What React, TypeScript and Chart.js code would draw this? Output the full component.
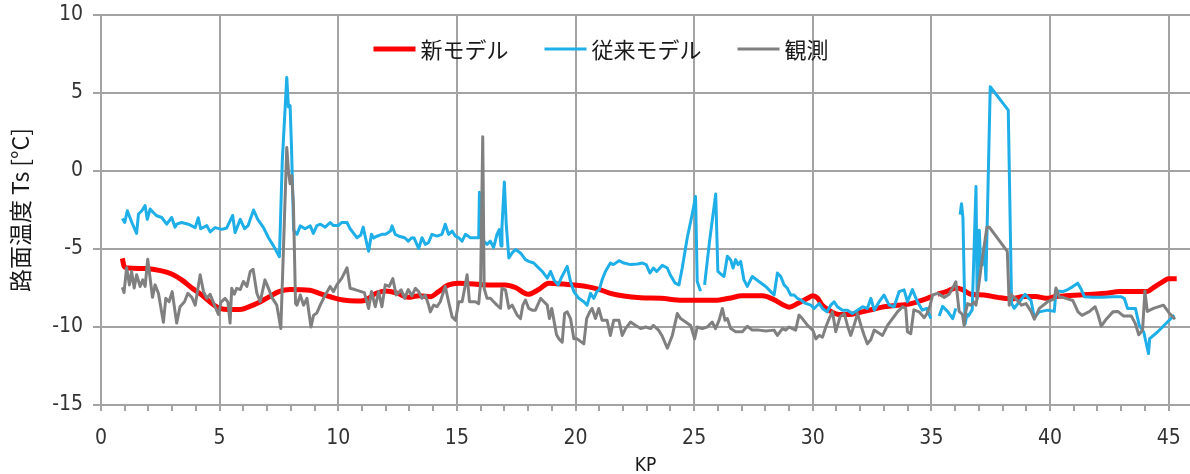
import { useEffect, useRef } from 'react';
import { Chart, registerables } from 'chart.js';

Chart.register(...registerables);

type Pt = [number, number | null];

// Series labels (legend order)
const seriesLabels = ['新モデル', '従来モデル', '観測'];

// Axis settings
const kpMin = 0;
const kpMax = 45.9;
const kpMajor = 5;
const tsMin = -15;
const tsMax = 10;
const tsStep = 5;
const xTitle = 'KP';
const yTitle = '路面温度 Ts [°C]';

// 新モデル: [KP, Ts]
const newModel: Pt[] = [
  [0.9, -5.6], [0.97, -6.1], [1.05, -6.2], [1.86, -6.25], [2.56, -6.4], [2.98, -6.6],
  [3.4, -6.98], [3.83, -7.5], [4.25, -7.95], [4.67, -8.49], [5.02, -8.81], [5.37, -8.88],
  [5.94, -8.86], [6.2, -8.73], [6.7, -8.4], [7.1, -8.05], [7.5, -7.73], [7.97, -7.6],
  [8.8, -7.65], [9.2, -7.84], [9.66, -8.06], [10.2, -8.27], [10.79, -8.34], [11.1, -8.3],
  [11.6, -7.84], [12.0, -7.69], [12.5, -7.84], [12.95, -8.1], [13.4, -8.0], [13.88, -8.06],
  [14.23, -7.73], [14.65, -7.3], [15.08, -7.19], [16.34, -7.3], [17.05, -7.3], [17.47, -7.47],
  [18.0, -7.9], [18.45, -7.6], [18.87, -7.19], [19.5, -7.25], [20.49, -7.41], [21.05, -7.62],
  [21.47, -7.84], [22.04, -8.01], [22.75, -8.12], [23.6, -8.16], [24.5, -8.29], [25.9, -8.29],
  [26.47, -8.16], [27.03, -8.0], [27.88, -8.0], [28.3, -8.2], [28.72, -8.55], [29.0, -8.73],
  [29.36, -8.5], [29.78, -8.16], [30.0, -8.0], [30.2, -8.15], [30.4, -8.6], [30.8, -9.03],
  [31.1, -9.2], [31.53, -9.2], [31.96, -9.07], [32.55, -8.86], [33.0, -8.7], [33.57, -8.6],
  [33.99, -8.55], [34.41, -8.38], [34.83, -8.16], [35.0, -8.05], [35.1, null], [35.26, -7.9],
  [35.68, -7.7], [36.03, -7.5], [36.31, -7.6], [36.66, -7.9], [37.22, -7.95], [37.79, -8.1],
  [38.35, -8.2], [38.9, -8.05], [39.4, -8.05], [39.83, -8.16], [40.25, -8.05], [40.67, -8.0],
  [41.24, -7.95], [41.8, -7.9], [42.37, -7.84], [42.93, -7.73], [44.1, -7.73], [44.36, -7.47],
  [44.78, -7.08], [44.99, -6.9], [45.34, -6.9],
];

// 従来モデル: [KP, Ts]
const oldModel: Pt[] = [
  [0.9, -3.05], [1.0, -3.3], [1.11, -2.55], [1.2, -2.9], [1.3, -3.3], [1.5, -4.0],
  [1.58, -2.76], [1.72, -2.55], [1.86, -2.22], [1.95, -3.1], [2.07, -2.44], [2.2, -2.66],
  [2.35, -2.87], [2.56, -2.98], [2.77, -3.41], [2.98, -2.98], [3.12, -3.6], [3.19, -3.41],
  [3.4, -3.3], [3.68, -3.41], [3.97, -3.63], [4.1, -3.0], [4.2, -3.7], [4.46, -3.5],
  [4.6, -3.9], [4.81, -3.63], [5.09, -3.74], [5.3, -3.65], [5.55, -2.85], [5.65, -3.95],
  [5.87, -3.1], [6.05, -3.7], [6.2, -3.5], [6.43, -2.5], [6.6, -3.09], [6.85, -3.63],
  [7.06, -4.28], [7.27, -4.8], [7.52, -5.5], [7.64, 0.6], [7.83, 6.0], [7.9, 4.1],
  [7.97, 4.2], [8.03, 1.5], [8.12, -3.8], [8.26, -4.06], [8.4, -3.52], [8.6, -3.7],
  [8.82, -3.52], [8.95, -4.0], [9.1, -3.5], [9.25, -3.41], [9.45, -3.6], [9.66, -3.3],
  [9.8, -3.5], [10.0, -3.5], [10.15, -3.3], [10.37, -3.3], [10.5, -3.7], [10.65, -4.0],
  [10.79, -4.28], [10.95, -4.1], [11.05, -3.6], [11.21, -4.7], [11.28, -5.14], [11.4, -4.06],
  [11.5, -4.3], [11.6, -4.2], [11.84, -4.06], [12.0, -4.05], [12.2, -3.85], [12.27, -3.52],
  [12.4, -4.06], [12.6, -4.2], [12.8, -4.28], [12.95, -4.5], [13.1, -4.28], [13.2, -4.3],
  [13.39, -4.97], [13.53, -4.28], [13.67, -4.7], [13.8, -4.6], [13.95, -4.06], [14.16, -4.17],
  [14.37, -4.06], [14.51, -3.41], [14.65, -4.06], [14.8, -3.85], [14.94, -4.17], [15.08, -4.28],
  [15.22, -4.5], [15.36, -4.06], [15.57, -4.28], [15.78, -4.28], [15.92, -4.28], [15.95, -1.36],
  [16.0, -4.28], [16.13, -4.5], [16.27, -4.7], [16.41, -4.5], [16.55, -4.9], [16.69, -4.06],
  [16.79, -3.75], [16.86, -4.8], [16.9, -3.6], [17.0, -0.71], [17.08, -3.4], [17.19, -5.57],
  [17.33, -5.25], [17.47, -5.03], [17.68, -5.25], [17.89, -5.68], [18.03, -5.79], [18.24, -5.9],
  [18.38, -6.11], [18.6, -6.44], [18.81, -6.87], [18.95, -6.44], [19.1, -7.0], [19.27, -7.3],
  [19.43, -6.76], [19.65, -6.11], [19.79, -7.08], [19.93, -7.73], [20.14, -8.16], [20.35, -8.38],
  [20.49, -8.6], [20.63, -7.84], [20.77, -8.16], [20.9, -7.73], [21.0, -7.62], [21.12, -6.98],
  [21.26, -6.44], [21.47, -5.9], [21.6, -6.0], [21.83, -5.75], [22.04, -5.9], [22.32, -6.0],
  [22.61, -5.96], [22.82, -5.9], [22.98, -6.0], [23.14, -6.54], [23.28, -6.22], [23.42, -6.44],
  [23.66, -6.05], [23.87, -6.22], [23.99, -6.65], [24.2, -7.19], [24.36, -7.3], [24.5, -6.2],
  [24.71, -4.28], [24.92, -2.76], [25.06, -1.64], [25.13, -7.08], [25.27, -7.7], [25.35, null],
  [25.44, -7.3], [25.65, -4.5], [25.91, -1.47], [26.0, -6.44], [26.12, -6.6], [26.26, -6.76],
  [26.4, -5.46], [26.54, -5.7], [26.64, -6.22], [26.75, -5.68], [26.85, -6.0], [26.96, -5.79],
  [27.1, -6.98], [27.24, -7.4], [27.45, -6.76], [27.73, -7.08], [28.02, -7.4], [28.23, -7.73],
  [28.37, -7.95], [28.51, -6.54], [28.65, -6.76], [28.79, -7.3], [28.93, -7.52], [29.07, -7.95],
  [29.21, -7.95], [29.35, -8.16], [29.5, -8.27], [29.7, -8.49], [29.92, -8.6], [30.06, -8.81],
  [30.27, -8.49], [30.41, -8.81], [30.6, -9.03], [30.76, -8.6], [30.9, -8.38], [31.04, -8.7],
  [31.25, -8.92], [31.46, -8.92], [31.67, -9.14], [31.89, -8.92], [32.1, -8.7], [32.3, -8.81],
  [32.45, -8.16], [32.59, -8.92], [32.8, -8.38], [33.0, -7.95], [33.22, -8.6], [33.43, -8.7],
  [33.64, -7.73], [33.85, -7.62], [33.99, -8.38], [34.2, -7.6], [34.41, -8.38], [34.62, -8.92],
  [34.8, -8.81], [34.98, -9.46], [35.15, null], [35.33, -9.3], [35.47, -8.68], [35.68, -9.0],
  [35.9, -9.46], [36.03, -8.81], [36.12, null], [36.21, -2.8], [36.27, -2.1], [36.33, -3.0],
  [36.42, -9.8], [36.5, -9.2], [36.55, -9.3], [36.72, -8.9], [36.88, -1.0], [36.93, -8.2],
  [37.02, -3.8], [37.08, -6.1], [37.15, -6.0], [37.23, -4.85], [37.3, -7.0], [37.48, 5.4],
  [38.24, 3.9], [38.38, -8.5], [38.49, -8.8], [38.7, -8.4], [38.95, -7.9], [39.1, -8.16],
  [39.2, -8.3], [39.34, -9.4], [39.55, -9.03], [39.9, -8.92], [40.18, -9.0], [40.25, -7.7],
  [40.54, -7.73], [40.75, -7.6], [40.96, -7.41], [41.17, -7.19], [41.32, -7.6], [41.45, -8.06],
  [41.8, -8.1], [42.23, -8.1], [42.65, -8.06], [43.0, -8.06], [43.13, -8.16], [43.27, -8.81],
  [43.6, -8.81], [43.76, -9.9], [43.95, -10.32], [44.15, -11.7], [44.2, -10.75], [44.53, -10.32],
  [44.95, -9.68], [45.24, -9.24],
];

// 観測: [KP, Ts]
const observed: Pt[] = [
  [0.9, -7.45], [0.97, -7.8], [1.08, -6.2], [1.2, -7.3], [1.29, -6.44], [1.4, -7.5],
  [1.5, -6.65], [1.65, -7.4], [1.76, -6.98], [1.86, -7.4], [1.97, -5.65], [2.07, -6.87],
  [2.17, -8.1], [2.28, -7.3], [2.42, -7.84], [2.63, -9.7], [2.73, -8.16], [2.87, -8.38],
  [3.0, -7.73], [3.19, -9.75], [3.33, -8.7], [3.52, -8.38], [3.66, -7.84], [3.83, -8.1],
  [3.97, -8.6], [4.18, -6.65], [4.32, -7.73], [4.46, -8.16], [4.6, -7.9], [4.81, -8.7],
  [4.95, -9.2], [5.06, -8.4], [5.23, -8.16], [5.35, -8.4], [5.44, -9.75], [5.51, -7.52],
  [5.62, -7.9], [5.72, -7.52], [5.87, -7.6], [6.0, -7.08], [6.15, -7.4], [6.29, -6.44],
  [6.41, -6.3], [6.57, -7.84], [6.71, -8.38], [6.91, -6.98], [7.06, -7.52], [7.2, -8.1],
  [7.41, -8.6], [7.58, -10.1], [7.83, 1.5], [7.9, 0.04], [7.97, -0.82], [8.04, -0.3],
  [8.11, -2.12], [8.2, -8.5], [8.26, -8.6], [8.4, -7.95], [8.54, -8.6], [8.68, -8.16],
  [8.85, -10.0], [8.96, -9.24], [9.1, -9.1], [9.24, -8.6], [9.45, -7.95], [9.66, -7.4],
  [9.8, -7.73], [9.94, -7.3], [10.15, -6.87], [10.37, -6.2], [10.5, -7.52], [10.7, -7.6],
  [10.9, -7.7], [11.1, -7.8], [11.28, -8.81], [11.4, -7.73], [11.56, -8.7], [11.7, -7.73],
  [11.84, -8.7], [11.98, -7.3], [12.15, -7.4], [12.3, -6.9], [12.44, -7.95], [12.65, -7.62],
  [12.8, -8.16], [12.95, -7.6], [13.1, -8.0], [13.25, -7.52], [13.39, -7.73], [13.53, -8.16],
  [13.67, -7.95], [13.81, -8.6], [13.88, -9.03], [14.02, -8.6], [14.16, -8.7], [14.3, -8.38],
  [14.44, -7.73], [14.51, -7.4], [14.65, -8.38], [14.8, -9.35], [14.94, -9.57], [15.08, -8.38],
  [15.22, -8.38], [15.33, -7.52], [15.43, -6.65], [15.53, -8.38], [15.78, -8.38], [15.92, -8.5],
  [16.0, -7.2], [16.09, 2.2], [16.15, -7.52], [16.27, -8.16], [16.41, -8.16], [16.55, -8.38],
  [16.69, -8.6], [16.84, -8.8], [16.9, -7.52], [17.05, -7.62], [17.19, -8.8], [17.33, -8.6],
  [17.54, -9.24], [17.68, -9.46], [17.78, -8.6], [17.89, -8.27], [18.03, -8.81], [18.17, -8.92],
  [18.31, -8.92], [18.53, -8.16], [18.67, -8.38], [18.81, -8.6], [18.9, -9.46], [19.0, -8.81],
  [19.2, -10.5], [19.3, -10.76], [19.44, -10.97], [19.54, -9.14], [19.65, -9.03], [19.79, -9.46],
  [19.93, -10.76], [20.07, -10.76], [20.35, -11.08], [20.47, -9.46], [20.6, -9.03], [20.7, -8.81],
  [20.84, -9.46], [20.98, -8.81], [21.12, -9.57], [21.33, -9.57], [21.47, -10.54], [21.61, -9.57],
  [21.83, -9.57], [21.97, -10.54], [22.11, -10.1], [22.32, -9.68], [22.54, -9.9], [22.75, -10.1],
  [22.96, -10.0], [23.17, -10.1], [23.28, -9.9], [23.5, -10.2], [23.64, -10.54], [23.87, -11.36],
  [24.08, -10.54], [24.29, -9.14], [24.43, -9.46], [24.64, -9.68], [24.85, -9.9], [25.02, -10.76],
  [25.13, -10.0], [25.34, -10.1], [25.55, -10.0], [25.76, -9.68], [25.9, -10.1], [26.05, -9.57],
  [26.19, -8.81], [26.3, -9.57], [26.4, -9.46], [26.54, -10.1], [26.75, -10.3], [27.03, -10.3],
  [27.24, -9.95], [27.45, -10.2], [27.73, -10.2], [28.02, -10.25], [28.37, -10.2], [28.51, -10.54],
  [28.72, -10.1], [28.86, -10.2], [29.0, -10.0], [29.14, -10.1], [29.28, -10.2], [29.42, -9.24],
  [29.56, -9.46], [29.78, -9.9], [30.0, -10.2], [30.13, -10.76], [30.27, -10.54], [30.41, -10.65],
  [30.55, -10.0], [30.69, -9.46], [30.83, -9.03], [30.97, -10.3], [31.15, -9.35], [31.33, -9.14],
  [31.46, -9.9], [31.6, -10.54], [31.74, -9.9], [31.89, -9.14], [32.03, -9.9], [32.17, -10.54],
  [32.3, -11.08], [32.45, -10.8], [32.59, -10.2], [32.8, -10.4], [32.94, -10.54], [33.15, -9.9],
  [33.36, -9.46], [33.57, -9.03], [33.78, -8.7], [33.92, -8.8], [33.99, -10.3], [34.13, -10.43],
  [34.26, -8.9], [34.48, -9.03], [34.7, -9.4], [34.83, -9.1], [34.95, -8.6], [35.05, -7.95],
  [35.26, -7.84], [35.54, -8.1], [35.75, -7.9], [35.93, -7.41], [36.03, -7.1], [36.17, -9.0],
  [36.31, -9.2], [36.38, -9.9], [36.45, -9.0], [36.53, -8.5], [36.65, -8.6], [36.8, -8.4],
  [36.88, -8.6], [36.97, -7.63], [37.09, -6.2], [37.23, -4.75], [37.34, -3.6], [37.44, -3.6],
  [38.2, -5.15], [38.28, -8.6], [38.35, -7.9], [38.6, -8.26], [38.8, -8.6], [38.99, -8.5],
  [39.2, -9.0], [39.34, -9.5], [39.55, -8.81], [39.9, -8.38], [40.18, -8.2], [40.25, -7.5],
  [40.4, -8.1], [40.54, -8.1], [40.74, -8.2], [40.96, -8.3], [41.18, -9.03], [41.35, -9.25],
  [41.67, -9.0], [41.9, -8.7], [42.02, -9.2], [42.16, -9.95], [42.37, -9.5], [42.65, -9.03],
  [42.86, -9.0], [43.1, -9.3], [43.43, -9.3], [43.6, -9.8], [43.74, -10.5], [43.9, -10.2],
  [44.0, -7.7], [44.1, -9.0], [44.36, -8.81], [44.78, -8.6], [45.02, -9.1], [45.27, -9.5],
];

const seriesColors = ['#ff0000', '#1eaee8', '#808080'];
const seriesWidths = [5, 3, 3];

const gridColor = '#a3a3a3';
const tickFont = { family: "'Liberation Sans Narrow', 'DejaVu Sans Condensed', sans-serif", size: 21 };
const cjkFamily = "'Noto Sans CJK JP', 'Noto Sans', sans-serif";

const toXY = (pts: Pt[]) => pts.map(([x, y]) => ({ x, y }));

// Legend drawn inside the plot area, horizontally, without a box
const inlineLegend = {
  id: 'inlineLegend',
  afterDraw(chart: any) {
    const { ctx, chartArea } = chart;
    const lineLen = 42;
    const textGap = 5;
    const itemGap = 36;
    ctx.save();
    ctx.font = `22px ${cjkFamily}`;
    const items = chart.data.datasets.map((ds: any) => ({
      label: ds.label as string,
      color: ds.borderColor as string,
      width: ds.borderWidth as number,
      tw: ctx.measureText(ds.label).width,
    }));
    const total =
      items.reduce((s: number, it: any) => s + lineLen + textGap + it.tw, 0) + itemGap * (items.length - 1);
    let x = chartArea.left + 500 - total / 2;
    const y = chartArea.top + 34;
    ctx.textBaseline = 'middle';
    ctx.textAlign = 'left';
    for (const it of items) {
      ctx.strokeStyle = it.color;
      ctx.lineWidth = it.width;
      ctx.lineCap = 'butt';
      ctx.beginPath();
      ctx.moveTo(x, y);
      ctx.lineTo(x + lineLen, y);
      ctx.stroke();
      ctx.fillStyle = '#1a1a1a';
      ctx.fillText(it.label, x + lineLen + textGap, y + 1);
      x += lineLen + textGap + it.tw + itemGap;
    }
    ctx.restore();
  },
};

export default function App() {
  const canvasRef = useRef<HTMLCanvasElement | null>(null);

  useEffect(() => {
    const canvas = canvasRef.current;
    if (!canvas) return;
    const seriesData = [newModel, oldModel, observed];
    const chart = new Chart(canvas, {
      type: 'line',
      data: {
        datasets: seriesData.map((pts, i) => ({
          label: seriesLabels[i],
          data: toXY(pts),
          borderColor: seriesColors[i],
          backgroundColor: seriesColors[i],
          borderWidth: seriesWidths[i],
          pointRadius: 0,
          fill: false,
          spanGaps: false,
          borderJoinStyle: 'round' as const,
          cubicInterpolationMode: i === 0 ? ('monotone' as const) : ('default' as const),
          tension: 0,
          order: 3 - i,
        })),
      },
      options: {
        responsive: false,
        animation: false,
        devicePixelRatio: 1,
        layout: { padding: { top: 15, right: 0, bottom: 0, left: 0 } },
        plugins: {
          legend: { display: false },
          tooltip: { enabled: false },
        },
        scales: {
          x: {
            type: 'linear',
            min: kpMin,
            max: kpMax,
            afterFit: (s: any) => {
              s.height = 69;
              s.paddingLeft = 0;
              s.paddingRight = 0;
            },
            ticks: {
              stepSize: 1,
              autoSkip: false,
              includeBounds: false,
              maxRotation: 0,
              padding: 15,
              color: '#333333',
              font: tickFont,
              callback: (v: any) => (Number(v) % kpMajor === 0 ? String(v) : ''),
            },
            grid: {
              color: (c: any) => (c.tick && c.tick.value % kpMajor === 0 ? gridColor : 'rgba(0,0,0,0)'),
              tickColor: gridColor,
              tickLength: 6,
              lineWidth: 2,
            },
            border: { color: gridColor, width: 2 },
            title: {
              display: true,
              text: xTitle,
              color: '#1a1a1a',
              font: { ...tickFont, size: 19, lineHeight: 0.8 },
              padding: { top: 0, bottom: 0 },
            },
          },
          y: {
            min: tsMin,
            max: tsMax,
            afterFit: (s: any) => {
              s.width = 101;
              s.paddingTop = 0;
              s.paddingBottom = 0;
            },
            ticks: {
              stepSize: tsStep,
              padding: 10,
              color: '#333333',
              font: tickFont,
            },
            grid: {
              color: gridColor,
              tickColor: gridColor,
              tickLength: 8,
              lineWidth: 2,
            },
            border: { color: gridColor, width: 2 },
            title: {
              display: true,
              text: yTitle,
              color: '#1a1a1a',
              font: { family: cjkFamily, size: 23, lineHeight: 1.2 },
              padding: { top: 6, bottom: 0 },
            },
          },
        },
      },
      plugins: [inlineLegend],
    });
    return () => chart.destroy();
  }, []);

  return (
    <div style={{ position: 'absolute', left: 0, top: 0, width: 1190, height: 474, background: '#ffffff' }}>
      <canvas ref={canvasRef} width={1190} height={474} />
    </div>
  );
}
